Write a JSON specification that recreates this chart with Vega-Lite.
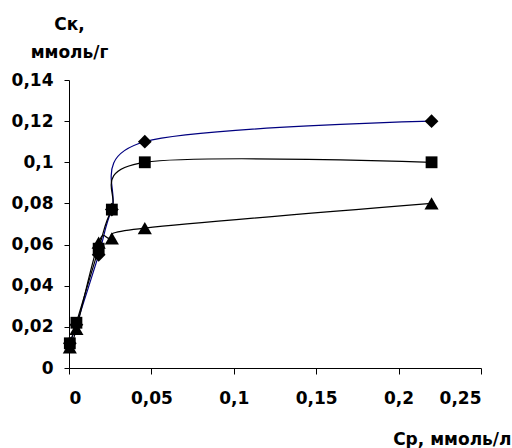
{
  "$schema": "https://vega.github.io/schema/vega-lite/v6.json",
  "width": 412,
  "height": 288,
  "autosize": "none",
  "padding": {"left": 69, "top": 80, "right": 31, "bottom": 80},
  "background": "white",
  "config": {"view": {"stroke": null}, "font": "DejaVu Sans"},
  "data": {"values": [
    {"s": "A", "x": 0.0005, "y": 0.012},
    {"s": "A", "x": 0.0045, "y": 0.021},
    {"s": "A", "x": 0.018, "y": 0.055},
    {"s": "A", "x": 0.026, "y": 0.077},
    {"s": "A", "x": 0.046, "y": 0.11},
    {"s": "A", "x": 0.22, "y": 0.12},
    {"s": "B", "x": 0.0005, "y": 0.012},
    {"s": "B", "x": 0.0045, "y": 0.022},
    {"s": "B", "x": 0.018, "y": 0.058},
    {"s": "B", "x": 0.026, "y": 0.077},
    {"s": "B", "x": 0.046, "y": 0.1},
    {"s": "B", "x": 0.22, "y": 0.1},
    {"s": "C", "x": 0.0005, "y": 0.01},
    {"s": "C", "x": 0.0045, "y": 0.019},
    {"s": "C", "x": 0.018, "y": 0.061},
    {"s": "C", "x": 0.026, "y": 0.063},
    {"s": "C", "x": 0.046, "y": 0.068},
    {"s": "C", "x": 0.22, "y": 0.08}
  ]},
  "encoding": {
    "x": {"field": "x", "type": "quantitative",
      "scale": {"domain": [0, 0.25], "nice": false, "zero": false},
      "axis": {"values": [0, 0.05, 0.1, 0.15, 0.2, 0.25],
        "labelExpr": "replace(format(datum.value, '.2~f'), '.', ',')",
        "grid": false, "domainColor": "#000", "tickColor": "#000", "tickSize": 6,
        "labelFont": "DejaVu Sans", "labelFontWeight": "bold", "labelFontSize": 17, "labelColor": "#000", "labelPadding": 16,
        "title": "Ср, ммоль/л", "titleFont": "DejaVu Sans", "titleFontWeight": "bold", "titleFontSize": 17, "titleColor": "#000",
        "titleAlign": "right", "titleAnchor": null, "titleX": 442, "titleY": 76, "titleBaseline": "alphabetic"}},
    "y": {"field": "y", "type": "quantitative",
      "scale": {"domain": [0, 0.14], "nice": false},
      "axis": {"values": [0, 0.02, 0.04, 0.06, 0.08, 0.1, 0.12, 0.14],
        "labelExpr": "replace(format(datum.value, '.2~f'), '.', ',')",
        "grid": false, "domainColor": "#000", "tickColor": "#000", "tickSize": 5,
        "labelFont": "DejaVu Sans", "labelFontWeight": "bold", "labelFontSize": 17, "labelColor": "#000", "labelPadding": 11,
        "title": ["Ск,", "ммоль/г"], "titleFont": "DejaVu Sans", "titleFontWeight": "bold", "titleFontSize": 17, "titleColor": "#000",
        "titleAngle": 0, "titleAlign": "center", "titleAnchor": null, "titleX": 0, "titleY": -51, "titleBaseline": "alphabetic", "titleLineHeight": 28}}
  },
  "layer": [
    {"mark": {"type": "line", "interpolate": "cardinal", "strokeWidth": 1.2},
     "encoding": {"color": {"field": "s", "type": "nominal", "scale": {"domain": ["A", "B", "C"], "range": ["#000080", "#000000", "#000000"]}, "legend": null}}},
    {"mark": {"type": "point", "filled": true, "opacity": 1, "color": "#000"},
     "encoding": {
       "shape": {"field": "s", "type": "nominal", "scale": {"domain": ["A", "B", "C"], "range": ["diamond", "square", "triangle-up"]}, "legend": null},
       "size": {"field": "s", "type": "ordinal", "scale": {"type": "ordinal", "domain": ["A", "B", "C"], "range": [190, 140, 200]}, "legend": null}}}
  ]
}
